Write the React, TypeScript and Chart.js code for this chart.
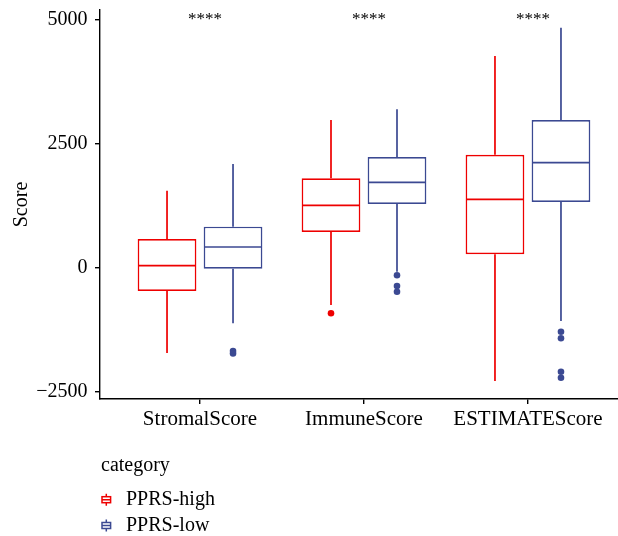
import React, { useEffect, useRef } from 'react';
import { Chart, registerables } from 'chart.js';

Chart.register(...registerables);

// ---------- data ----------
const CATEGORIES = ['StromalScore', 'ImmuneScore', 'ESTIMATEScore'];
const SERIES = ['PPRS-high', 'PPRS-low'];
const COLORS = ['#EE0000', '#3B4992'];
const LEGEND_TITLE = 'category';
const Y_TITLE = 'Score';

const HIGH_LOWER = [-1724, -756, -2288];
const HIGH_Q1 = [-474, 716, 266];
const HIGH_MEDIAN = [36, 1254, 1375];
const HIGH_Q3 = [575, 1798, 2274];
const HIGH_UPPER = [1548, 2974, 4264];
const HIGH_OUTLIERS: number[][] = [[], [-923], []];

const LOW_LOWER = [-1125, -85, -1079];
const LOW_Q1 = [-24, 1280, 1321];
const LOW_MEDIAN = [413, 1718, 2113];
const LOW_Q3 = [823, 2228, 2974];
const LOW_UPPER = [2087, 3190, 4835];
const LOW_OUTLIERS: number[][] = [[-1683, -1734], [-157, -373, -488], [-1294, -1427, -2101, -2222]];

const SIGNIF = ['****', '****', '****'];
const SIGNIF_Y = 5060;

const Y_TICKS = [-2500, 0, 2500, 5000];
const Y_MIN = -2651;
const Y_MAX = 5191;
const X_MIN = 0.39;
const X_MAX = 3.549;

const STATS = [
  { lower: HIGH_LOWER, q1: HIGH_Q1, median: HIGH_MEDIAN, q3: HIGH_Q3, upper: HIGH_UPPER, outliers: HIGH_OUTLIERS },
  { lower: LOW_LOWER, q1: LOW_Q1, median: LOW_MEDIAN, q3: LOW_Q3, upper: LOW_UPPER, outliers: LOW_OUTLIERS },
];

// ---------- style ----------
const FAMILY = "'Liberation Serif', 'Times New Roman', serif";
const LINE_W = 1.7;

const fmt = (v: number) => (v < 0 ? '\u2212' + Math.abs(v) : String(v));

const boxPlugin = {
  id: 'boxExtras',
  beforeDatasetsDraw(chart: any) {
    const { ctx } = chart;
    const yS = chart.scales.y;
    ctx.save();
    STATS.forEach((st, s) => {
      const meta = chart.getDatasetMeta(s);
      meta.data.forEach((el: any, i: number) => {
        const x = el.x;
        ctx.strokeStyle = COLORS[s];
        ctx.lineWidth = LINE_W;
        ctx.beginPath();
        ctx.moveTo(x, yS.getPixelForValue(st.q3[i]));
        ctx.lineTo(x, yS.getPixelForValue(st.upper[i]));
        ctx.moveTo(x, yS.getPixelForValue(st.q1[i]));
        ctx.lineTo(x, yS.getPixelForValue(st.lower[i]));
        ctx.stroke();
      });
    });
    ctx.restore();
  },
  afterDatasetsDraw(chart: any) {
    const { ctx } = chart;
    const yS = chart.scales.y;
    const xS = chart.scales.x;
    ctx.save();
    STATS.forEach((st, s) => {
      const meta = chart.getDatasetMeta(s);
      meta.data.forEach((el: any, i: number) => {
        const x = el.x;
        const half = el.width / 2 - LINE_W / 2;
        const ym = yS.getPixelForValue(st.median[i]);
        ctx.strokeStyle = COLORS[s];
        ctx.lineWidth = LINE_W;
        ctx.beginPath();
        ctx.moveTo(x - half, ym);
        ctx.lineTo(x + half, ym);
        ctx.stroke();
        ctx.fillStyle = COLORS[s];
        st.outliers[i].forEach((v) => {
          ctx.beginPath();
          ctx.arc(x, yS.getPixelForValue(v), 3.3, 0, Math.PI * 2);
          ctx.fill();
        });
      });
    });
    // significance labels
    ctx.fillStyle = '#000';
    ctx.font = `17px ${FAMILY}`;
    ctx.textAlign = 'center';
    ctx.textBaseline = 'alphabetic';
    SIGNIF.forEach((lab, i) => {
      const x = xS.getPixelForValue(i + 1) + 5;
      ctx.fillText(lab, x, yS.getPixelForValue(SIGNIF_Y) + 8);
    });
    ctx.restore();
  },
  afterDraw(chart: any) {
    const { ctx, chartArea } = chart;
    const left = chartArea.left;
    const bottom = chartArea.bottom;
    ctx.save();
    ctx.font = `20px ${FAMILY}`;
    ctx.textAlign = 'left';
    ctx.textBaseline = 'alphabetic';
    ctx.fillStyle = '#000';
    ctx.fillText(LEGEND_TITLE, left + 1, bottom + 72);
    SERIES.forEach((name, s) => {
      const cy = bottom + 100.7 + s * 25.8;
      const cx = left + 6.3;
      ctx.strokeStyle = COLORS[s];
      ctx.lineWidth = 1.5;
      ctx.beginPath();
      ctx.moveTo(cx, cy - 6);
      ctx.lineTo(cx, cy - 3);
      ctx.moveTo(cx, cy + 3);
      ctx.lineTo(cx, cy + 6);
      ctx.moveTo(cx - 4.3, cy);
      ctx.lineTo(cx + 4.3, cy);
      ctx.stroke();
      ctx.strokeRect(cx - 4.3, cy - 3, 8.6, 6);
      ctx.fillStyle = '#000';
      ctx.fillText(name, left + 26, cy + 5.3);
    });
    ctx.restore();
  },
};

export default function App() {
  const ref = useRef<HTMLCanvasElement>(null);
  useEffect(() => {
    document.body.style.margin = '0';
    const canvas = ref.current;
    if (!canvas) return;
    const chart = new Chart(canvas, {
      type: 'bar',
      data: {
        datasets: SERIES.map((name, s) => ({
          type: 'bar' as const,
          label: name,
          data: CATEGORIES.map((_, i) => ({ x: i + 1, y: [STATS[s].q1[i], STATS[s].q3[i]] })) as any,
          backgroundColor: '#ffffff',
          borderColor: COLORS[s],
          borderWidth: LINE_W,
          borderSkipped: false,
          categoryPercentage: 0.805,
          barPercentage: 0.89,
        })),
      },
      options: {
        responsive: false,
        animation: false,
        devicePixelRatio: 1,
        layout: { padding: { top: 10, left: 0, right: 0, bottom: 107 } },
        plugins: {
          legend: { display: false },
          tooltip: { enabled: false },
        },
        scales: {
          x: {
            type: 'linear',
            min: X_MIN,
            max: X_MAX,
            bounds: 'data',
            offset: false,
            afterBuildTicks: (sc: any) => {
              sc.ticks = CATEGORIES.map((_, i) => ({ value: i + 1 }));
            },
            afterFit: (sc: any) => {
              sc.height = 30;
              sc.paddingLeft = 0;
              sc.paddingRight = 0;
            },
            ticks: {
              autoSkip: false,
              maxRotation: 0,
              padding: 3,
              color: '#000',
              font: { size: 21, family: FAMILY },
              callback: (v: any) => CATEGORIES[Math.round(Number(v)) - 1] ?? '',
            },
            grid: { offset: false, drawOnChartArea: false, drawTicks: true, tickLength: 5, color: '#000', lineWidth: 1.4 },
            border: { display: true, color: '#000', width: 1.4 },
          },
          y: {
            type: 'linear',
            min: Y_MIN,
            max: Y_MAX,
            bounds: 'data',
            afterBuildTicks: (sc: any) => {
              sc.ticks = Y_TICKS.map((v) => ({ value: v }));
            },
            afterFit: (sc: any) => {
              sc.width = 100;
              sc.paddingTop = 0;
              sc.paddingBottom = 0;
            },
            ticks: {
              padding: 7.5,
              color: '#000',
              font: { size: 20, family: FAMILY },
              callback: (v: any) => fmt(Number(v)),
            },
            grid: { drawOnChartArea: false, drawTicks: true, tickLength: 5, color: '#000', lineWidth: 1.4 },
            border: { display: true, color: '#000', width: 1.4 },
            title: {
              display: true,
              text: Y_TITLE,
              color: '#000',
              font: { size: 20, family: FAMILY },
              padding: { top: 10, bottom: 0 },
            },
          },
        },
      } as any,
      plugins: [boxPlugin],
    });
    return () => chart.destroy();
  }, []);
  return (
    <div style={{ width: 618, height: 536 }}>
      <canvas ref={ref} width={618} height={536} style={{ display: 'block' }} />
    </div>
  );
}
